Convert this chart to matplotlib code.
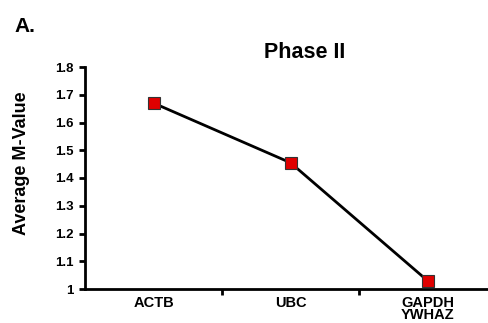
import matplotlib
matplotlib.use("Agg")
import matplotlib.pyplot as plt
from matplotlib.ticker import FixedLocator, NullFormatter

plt.rcParams['font.family'] = ['Liberation Sans', 'DejaVu Sans']
plt.rcParams['font.weight'] = 'bold'

genes = ["ACTB", "UBC", "GAPDH\nYWHAZ"]
m_values = [1.67, 1.455, 1.03]
y_ticks = [1.0, 1.1, 1.2, 1.3, 1.4, 1.5, 1.6, 1.7, 1.8]
y_tick_labels = ["1", "1.1", "1.2", "1.3", "1.4", "1.5", "1.6", "1.7", "1.8"]

W, H = 488, 323
fig = plt.figure(figsize=(W / 100, H / 100), dpi=100)
left, right, top, bottom = 85, 496, 67, 289
ax = fig.add_axes([left / W, 1 - bottom / H, (right - left) / W, (bottom - top) / H])

x = list(range(1, len(genes) + 1))
ax.plot(x, m_values, color="black", lw=2, marker="s", markersize=8,
        markerfacecolor="#e00000", markeredgecolor="#333333", markeredgewidth=0.8,
        clip_on=False, zorder=3)

ax.set_xlim(0.5, len(genes) + 0.5)
ax.set_ylim(1.0, 1.8)
ax.set_yticks(y_ticks)
ax.set_yticklabels(y_tick_labels, fontsize=9.5, fontweight="bold")

ax.set_xticks(x)
ax.set_xticklabels(genes, fontsize=10.5, fontweight="bold", linespacing=0.85)
ax.tick_params(axis="x", which="major", length=0, pad=5)
ax.xaxis.set_minor_locator(FixedLocator([i + 0.5 for i in x[:-1]]))
ax.xaxis.set_minor_formatter(NullFormatter())
ax.tick_params(axis="x", which="minor", length=4, width=2, direction="out")
ax.tick_params(axis="y", length=4, width=2, direction="out", pad=4)

for s in ["top", "right"]:
    ax.spines[s].set_visible(False)
for s in ["left", "bottom"]:
    ax.spines[s].set_linewidth(2)

fig.text(22 / W, 1 - 163 / H, "Average M-Value", ha="center", va="center",
         rotation=90, fontsize=13, fontweight="bold")
fig.text(305 / W, 1 - 53 / H, "Phase II", ha="center", va="center",
         fontsize=15.5, fontweight="bold")
fig.text(14 / W, 1 - 26 / H, "A.", ha="left", va="center",
         fontsize=15, fontweight="bold")

fig.savefig("out.png", dpi=100)
